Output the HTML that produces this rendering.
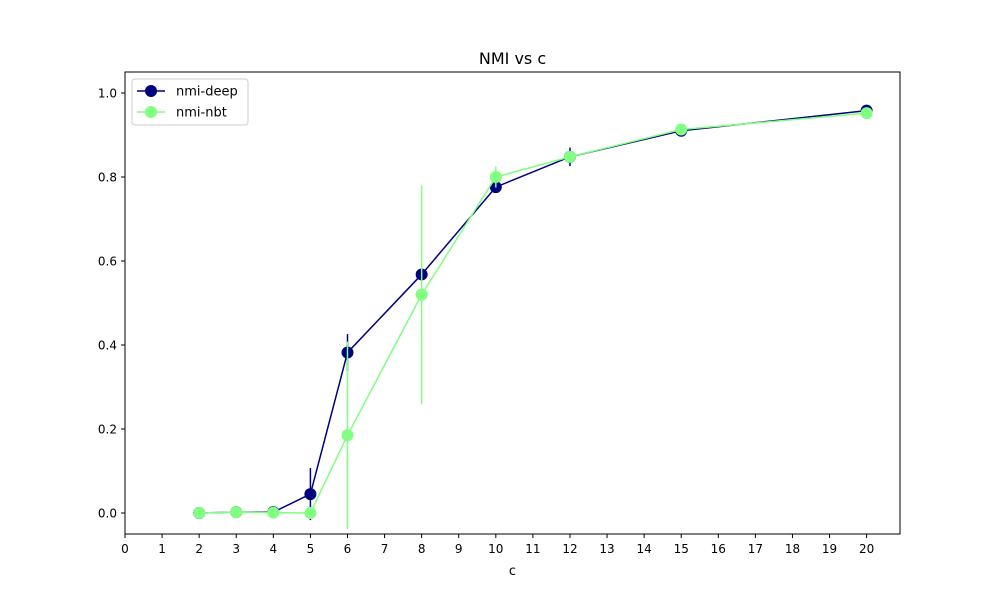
<!DOCTYPE html>
<html><head><meta charset="utf-8"><style>
body{margin:0;background:#fff;font-family:"Liberation Sans","DejaVu Sans",sans-serif}
</style></head><body>
<svg id="chart" width="1000" height="600" xmlns="http://www.w3.org/2000/svg" font-family="DejaVu Sans, Liberation Sans, sans-serif"></svg>
<script>
const xs = [2,3,4,5,6,8,10,12,15,20];
const deep = [0,0.002,0.002,0.045,0.382,0.568,0.776,0.848,0.910,0.958];
const deepErr = [0,0,0,0.062,0.044,0,0,0.022,0,0];
const nbt = [0,0.002,0.001,0,0.185,0.52,0.80,0.848,0.913,0.952];
const nbtErr = [0,0,0,0,0.223,0.26,0.025,0,0,0];
const xTicks = [0,1,2,3,4,5,6,7,8,9,10,11,12,13,14,15,16,17,18,19,20];
const yTicks = [0,0.2,0.4,0.6,0.8,1.0];

const L=125,R=900,T=72,B=534;
const X=v=>L+(v-0)/(20.9-0)*(R-L);
const Y=v=>B-(v+0.05)/(1.1)*(B-T);
const svg=document.getElementById('chart');
const NS='http://www.w3.org/2000/svg';
function mk(tag,attrs,parent){const e=document.createElementNS(NS,tag);for(const k in attrs)e.setAttribute(k,attrs[k]);(parent||svg).appendChild(e);return e;}

const title=mk('text',{x:512.5,y:64,'text-anchor':'middle','font-size':16});
title.textContent='NMI vs c';



xTicks.forEach(t=>{
  const g=mk('g',{});
  
  
  mk('line',{x1:X(t),x2:X(t),y1:B,y2:B+4,stroke:'#000'},g);
  const tx=mk('text',{x:X(t),y:B+19,'text-anchor':'middle','font-size':12},g);tx.textContent=t;
});
yTicks.forEach(t=>{
  const g=mk('g',{});
  
  
  mk('line',{x1:L-4,x2:L,y1:Y(t),y2:Y(t),stroke:'#000'},g);
  const tx=mk('text',{x:L-8,y:Y(t)+4.5,'text-anchor':'end','font-size':12},g);tx.textContent=t.toFixed(1);
});
const xl=mk('text',{x:512.5,y:575,'text-anchor':'middle','font-size':13});xl.textContent='c';



function series(vals,errs,color,name){
  const g=mk('g',{});
  
  
  xs.forEach((x,i)=>{if(errs[i]>0){const e=mk('line',{x1:X(x),x2:X(x),y1:Y(vals[i]-errs[i]),y2:Y(vals[i]+errs[i]),stroke:color,'stroke-width':1.5},g);
    
    }});
  mk('polyline',{points:xs.map((x,i)=>X(x)+','+Y(vals[i])).join(' '),fill:'none',stroke:color,'stroke-width':1.5},g);
  xs.forEach((x,i)=>{const c=mk('circle',{cx:X(x),cy:Y(vals[i]),r:6,fill:color},g);
    
    });
}
series(deep,deepErr,'#000080','series-nmi-deep');
series(nbt,nbtErr,'#80ff80','series-nmi-nbt');

const frame=mk('rect',{x:L,y:T,width:R-L,height:B-T,fill:'none',stroke:'#000','stroke-width':1});



const lg=mk('g',{});


mk('rect',{x:132,y:79,width:116,height:46,rx:3,fill:'#fff',stroke:'#ccc'},lg);
[['nmi-deep','#000080',91],['nmi-nbt','#80ff80',112]].forEach(([n,c,y])=>{
  const e=mk('g',{},lg);
  
  
  mk('line',{x1:137,x2:165,y1:y,y2:y,stroke:c,'stroke-width':1.5},e);
  mk('circle',{cx:151,cy:y,r:6,fill:c},e);
  const t=mk('text',{x:176,y:y+4.5,'font-size':13},e);t.textContent=n;
});
</script>
</body></html>
